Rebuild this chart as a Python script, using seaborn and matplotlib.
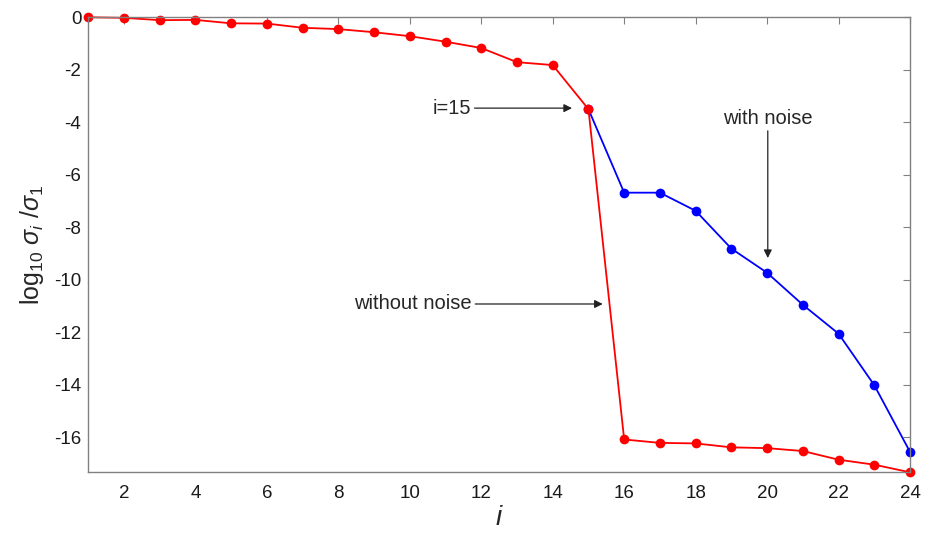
import matplotlib
matplotlib.use("Agg")
import matplotlib.pyplot as plt
import seaborn as sns
import pandas as pd

# singular value index
idx_clean = list(range(1, 25))
idx_noisy = list(range(15, 25))

# log10(sigma_i / sigma_1), noise-free data
log_sv_clean = [0.0, -0.02, -0.11, -0.10, -0.23, -0.24, -0.40, -0.45, -0.57, -0.72,
                -0.93, -1.17, -1.71, -1.82, -3.50, -16.08, -16.21, -16.23, -16.38,
                -16.41, -16.52, -16.85, -17.04, -17.33]

# log10(sigma_i / sigma_1), noisy data (diverges after i = 15)
log_sv_noisy = [-3.50, -6.68, -6.68, -7.37, -8.81, -9.73, -10.95, -12.05, -14.01, -16.55]

x_ticks = [2, 4, 6, 8, 10, 12, 14, 16, 18, 20, 22, 24]
y_ticks = [0, -2, -4, -6, -8, -10, -12, -14, -16]

sns.set_theme(style="white")
plt.rcParams["font.family"] = ["Liberation Sans", "DejaVu Sans"]
plt.rcParams["mathtext.fontset"] = "custom"
plt.rcParams["mathtext.rm"] = "Liberation Sans"
plt.rcParams["mathtext.it"] = "Liberation Sans:italic"
plt.rcParams["axes.unicode_minus"] = False

df_clean = pd.DataFrame({"i": idx_clean, "v": log_sv_clean})
df_noisy = pd.DataFrame({"i": idx_noisy, "v": log_sv_noisy})

fig = plt.figure(figsize=(9.36, 5.35), dpi=100)
ax = fig.add_axes([0.0943, 0.1172, 0.8779, 0.8505])

line_kw = dict(marker="o", markersize=7, markeredgewidth=0, linewidth=1.3)
sns.lineplot(data=df_noisy, x="i", y="v", color="#0000ff", ax=ax, **line_kw)
sns.lineplot(data=df_clean, x="i", y="v", color="#ff0000", ax=ax, **line_kw)

ax.set_xlim(1, 24)
ax.set_ylim(min(log_sv_clean), 0)
ax.set_xticks(x_ticks)
ax.set_yticks(y_ticks)
ax.tick_params(direction="in", length=5, width=0.8, color="#808080",
               labelsize=13.5, labelcolor="#1a1a1a", top=True, right=True,
               labeltop=False, labelright=False)
ax.tick_params(axis="x", pad=9)
ax.tick_params(axis="y", pad=5)
for sp in ax.spines.values():
    sp.set_color("#808080")
    sp.set_linewidth(1.0)
for ln in ax.lines:
    ln.set_clip_on(False)

ax.set_xlabel(r"$i$", fontsize=20, labelpad=2)
ax.set_ylabel(r"$\mathrm{log}_{10}\ \sigma_{i}\ /\sigma_{1}$", fontsize=18, labelpad=6)

arrow = dict(arrowstyle="-|>", color="#222222", lw=0.9, mutation_scale=12,
             shrinkA=0, shrinkB=0)
ax.annotate("i=15", xy=(14.54, -3.46), xytext=(11.72, -3.46), fontsize=14.5,
            ha="right", va="center", arrowprops=arrow)
ax.annotate("without noise", xy=(15.40, -10.92), xytext=(11.74, -10.92), fontsize=14.5,
            ha="right", va="center", arrowprops=arrow)
ax.annotate("with noise", xy=(20.02, -9.17), xytext=(20.02, -4.2), fontsize=14.5,
            ha="center", va="bottom", arrowprops=arrow)

fig.savefig("out.png", dpi=100)
